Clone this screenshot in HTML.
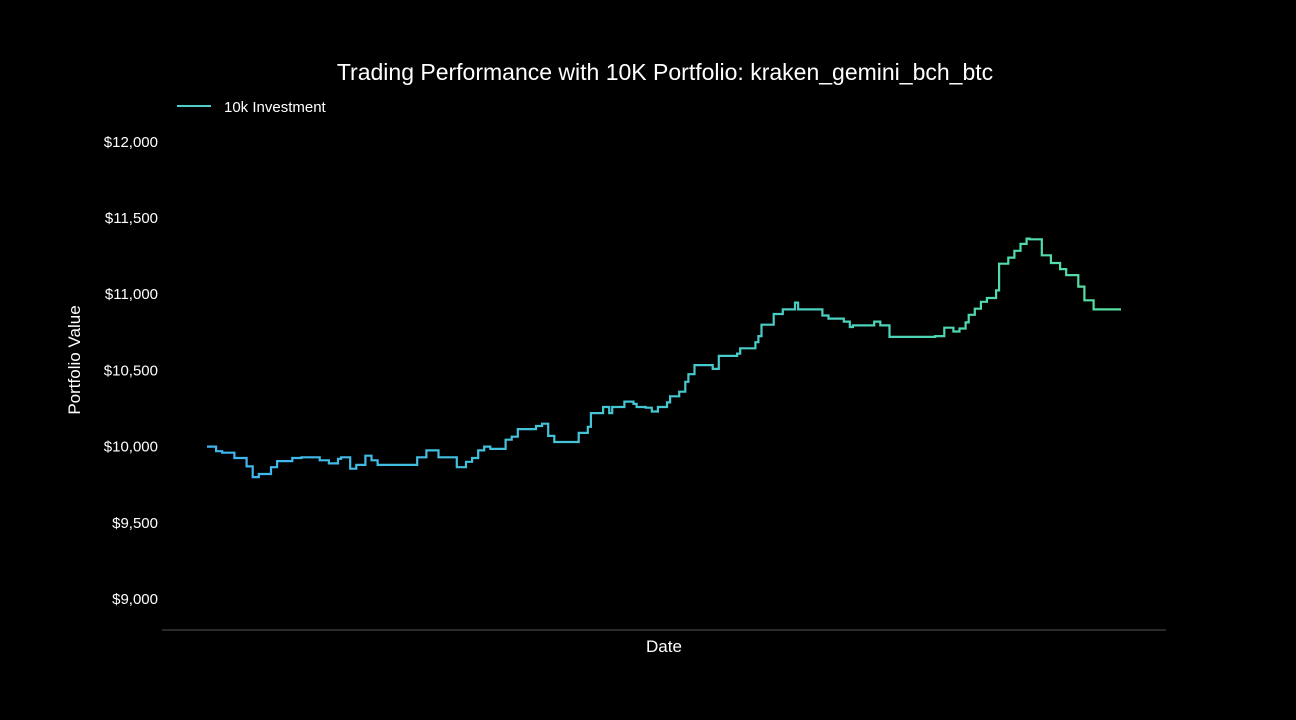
<!DOCTYPE html>
<html><head><meta charset="utf-8"><style>
html,body{margin:0;padding:0;background:#000;}
svg{display:block;font-family:"Liberation Sans",sans-serif;}
</style></head><body>
<svg id="chart" width="1296" height="720" viewBox="0 0 1296 720">
<defs><linearGradient id="lg" gradientUnits="userSpaceOnUse" x1="207" y1="0" x2="1121" y2="0">
<stop offset="0" stop-color="#3fb6f2"/><stop offset="0.5" stop-color="#45c8d0"/><stop offset="1" stop-color="#55e0a0"/></linearGradient></defs>
<rect width="1296" height="720" fill="#000"/>
<text x="665" y="80" fill="#fff" font-size="23" text-anchor="middle">Trading Performance with 10K Portfolio: kraken_gemini_bch_btc</text>
<g>
<line x1="177" y1="106" x2="211" y2="106" stroke="#4ccfcb" stroke-width="2"/>
<text x="224" y="112" fill="#fff" font-size="15">10k Investment</text>
</g>
<g id="yaxis"></g>
<text transform="translate(80,360) rotate(-90)" fill="#fff" font-size="17" text-anchor="middle">Portfolio Value</text>
<line x1="162" y1="630" x2="1166" y2="630" stroke="#555" stroke-width="1"/>
<text x="664" y="652" fill="#fff" font-size="17" text-anchor="middle">Date</text>
<g id="plot"></g>
</svg>
<script>
const yTicks=[9000,9500,10000,10500,11000,11500,12000];
const yTickLabels=["$9,000","$9,500","$10,000","$10,500","$11,000","$11,500","$12,000"];
const steps=[0,3,5,9,13,15,17,21,23,28,31,37,40,43,44,47,49,52,54,56,69,72,76,82,85,87,89,91,93,98,100,102,108,110,112,114,122,125,126,130,132,133,137,140,141,144,146,148,151,152,155,157,158,160,166,168,174,175,180,181,182,186,189,193,194,202,204,209,211,212,219,221,224,239,242,245,247,249,250,252,254,256,259,260,263,265,267,269,270,274,277,280,282,286,288,291,300];
const values=[10000,9970,9960,9925,9870,9800,9820,9865,9905,9925,9930,9910,9890,9920,9930,9855,9880,9940,9910,9880,9930,9975,9930,9865,9900,9925,9975,10000,9985,10045,10065,10115,10135,10150,10070,10030,10090,10130,10220,10260,10220,10260,10295,10280,10260,10255,10230,10260,10290,10330,10360,10425,10475,10535,10510,10595,10610,10645,10685,10725,10800,10870,10900,10945,10900,10860,10840,10820,10785,10795,10820,10795,10720,10725,10780,10755,10775,10815,10865,10905,10950,10975,11025,11200,11240,11285,11330,11365,11360,11255,11205,11165,11125,11050,10960,10900,10900];
const NS="http://www.w3.org/2000/svg";
function xs(i){return 207+(i-0)/300*914;}
function ys(v){return 446.6-(v-10000)*0.1524;}
const ya=document.getElementById('yaxis');
yTicks.forEach((t,k)=>{
  const tx=document.createElementNS(NS,'text');
  tx.setAttribute('x',158);tx.setAttribute('y',ys(t)+5);
  tx.setAttribute('fill','#fff');tx.setAttribute('font-size','15');tx.setAttribute('text-anchor','end');
  
  
  tx.textContent=yTickLabels[k];ya.appendChild(tx);
});
let d='M'+xs(steps[0])+','+ys(values[0]);
for(let i=1;i<steps.length;i++){
  d+=' H'+xs(steps[i]).toFixed(1)+' V'+ys(values[i]).toFixed(1);
}
const p=document.createElementNS(NS,'path');
p.setAttribute('d',d);p.setAttribute('fill','none');p.setAttribute('stroke','url(#lg)');
p.setAttribute('stroke-width','2.2');


document.getElementById('plot').appendChild(p);
</script>
</body></html>
